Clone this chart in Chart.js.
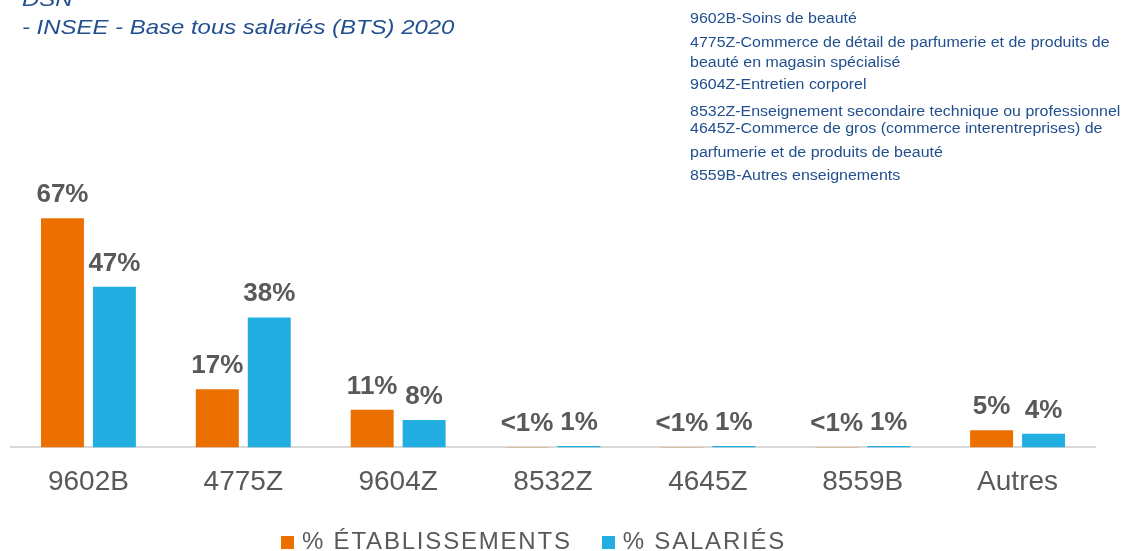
<!DOCTYPE html>
<html lang="fr">
<head>
  <meta charset="UTF-8">
  <title>Codes NAF - établissements et salariés</title>
  <script src="https://cdn.jsdelivr.net/npm/chart.js"></script>
  <style>
    body { margin: 0; background: #fff; font-family: "Liberation Sans", Arial, sans-serif; }
    #page { position: relative; width: 1124px; height: 551px; overflow: hidden; }
    #chart-box { position: absolute; left: 0; top: 0; width: 1124px; height: 551px; }
    #source { position: absolute; left: 22px; top: -15px; color: #22508f; font-style: italic;
              font-size: 21px; line-height: 28px; white-space: nowrap;
              transform: scaleX(1.14); transform-origin: 0 0; }
    #codes { position: absolute; left: 690px; top: 0; color: #22508f; font-size: 14px;
             white-space: nowrap; transform: scaleX(1.14); transform-origin: 0 0; }
    #codes div { position: absolute; left: 0; }
    #legend { position: absolute; left: 281px; top: 527px; display: flex; color: #595959;
              font-size: 24px; line-height: 28px; letter-spacing: 1.8px; white-space: nowrap; }
    #legend span.sq { display: inline-block; width: 13px; height: 13px; margin-right: 8px; }
    #legend .item { margin-right: 30px; }
  </style>
</head>
<body>
<div id="page">
  <div id="chart-box"><canvas id="naf-chart"></canvas></div>
  <div id="source">DSN<br>- INSEE - Base tous salariés (BTS) 2020</div>
  <div id="codes"></div>
  <div id="legend"></div>
</div>

<script>
  // Data
  const categories = ['9602B', '4775Z', '9604Z', '8532Z', '4645Z', '8559B', 'Autres'];
  const seriesNames = ['% ÉTABLISSEMENTS', '% SALARIÉS'];
  const etablissements = [67, 17, 11, 0.1, 0.1, 0.1, 5];
  const salaries = [47, 38, 8, 0.4, 0.4, 0.4, 4];
  const etablissementsLabels = ['67%', '17%', '11%', '<1%', '<1%', '<1%', '5%'];
  const salariesLabels = ['47%', '38%', '8%', '1%', '1%', '1%', '4%'];
  const codeNotes = [
    ['9602B-Soins de beauté'],
    ['4775Z-Commerce de détail de parfumerie et de produits de', 'beauté en magasin spécialisé'],
    ['9604Z-Entretien corporel'],
    ['8532Z-Enseignement secondaire technique ou professionnel'],
    ['4645Z-Commerce de gros (commerce interentreprises) de', 'parfumerie et de produits de beauté'],
    ['8559B-Autres enseignements']
  ];

  const colors = ['#ec7000', '#23aee2'];
  // layout only: top and line height of each note
  const noteTops = [8, 32, 74, 101, 116, 165];
  const noteLineHeights = [20, 20, 20, 20, 24, 20];

  // Code notes, top right
  const codesEl = document.getElementById('codes');
  codeNotes.forEach(function(lines, i) {
    const d = document.createElement('div');
    d.style.top = noteTops[i] + 'px';
    d.style.lineHeight = noteLineHeights[i] + 'px';
    d.innerHTML = lines.join('<br>');
    codesEl.appendChild(d);
  });

  // Value labels above bars
  const barLabels = {
    id: 'barLabels',
    afterDatasetsDraw(chart) {
      const ctx = chart.ctx;
      const texts = [etablissementsLabels, salariesLabels];
      ctx.save();
      ctx.font = 'bold 26px "Liberation Sans", Arial, sans-serif';
      ctx.fillStyle = '#595959';
      ctx.textAlign = 'center';
      ctx.textBaseline = 'alphabetic';
      chart.data.datasets.forEach(function(ds, i) {
        chart.getDatasetMeta(i).data.forEach(function(bar, j) {
          ctx.fillText(texts[i][j], bar.x, bar.y - 16);
        });
      });
      ctx.restore();
    }
  };

  const ctx = document.getElementById('naf-chart').getContext('2d');
  const nafChart = new Chart(ctx, {
    type: 'bar',
    data: {
      labels: categories,
      datasets: [
        { label: seriesNames[0], data: etablissements, backgroundColor: colors[0] },
        { label: seriesNames[1], data: salaries, backgroundColor: colors[1] }
      ]
    },
    options: {
      responsive: true,
      maintainAspectRatio: false,
      animation: false,
      categoryPercentage: 0.671,
      barPercentage: 0.827,
      layout: { padding: { top: 208, left: 11, right: 29, bottom: 34 } },
      plugins: { legend: { display: false }, tooltip: { enabled: false } },
      scales: {
        x: {
          grid: { display: false, drawTicks: false },
          border: { display: true, color: '#d9d9d9', width: 2 },
          ticks: { color: '#595959', padding: 18, font: { family: '"Liberation Sans", Arial, sans-serif', size: 28 } }
        },
        y: { display: false, min: 0, max: 70 }
      }
    },
    plugins: [barLabels]
  });

  // Legend at the bottom
  const legendEl = document.getElementById('legend');
  nafChart.data.datasets.forEach(function(ds) {
    const item = document.createElement('div');
    item.className = 'item';
    item.innerHTML = '<span class="sq" style="background:' + ds.backgroundColor + '"></span>' + ds.label;
    legendEl.appendChild(item);
  });
</script>
</body>
</html>
